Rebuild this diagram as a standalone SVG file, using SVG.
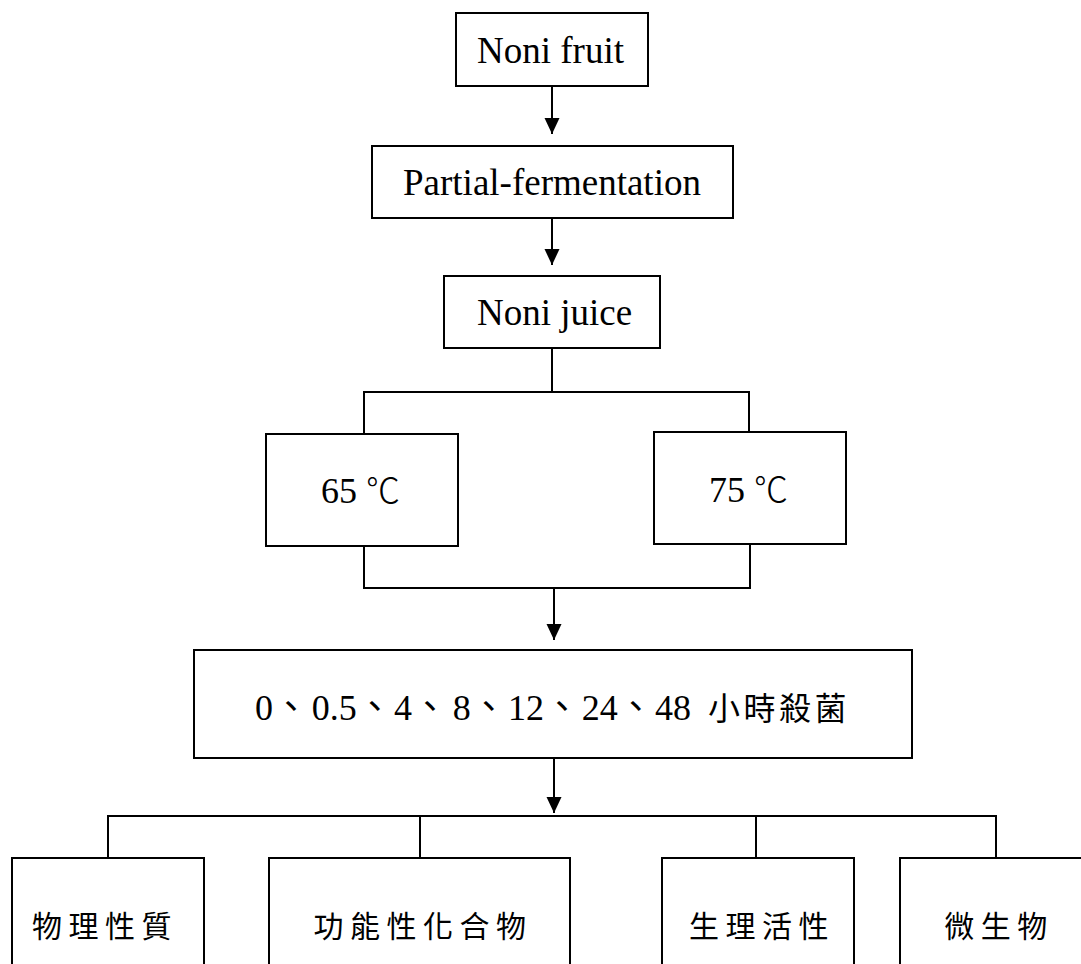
<svg xmlns="http://www.w3.org/2000/svg" width="1081" height="964" viewBox="0 0 1081 964">
  <style>
    .box { fill: #fff; stroke: #000; stroke-width: 2; }
    .wire { fill: none; stroke: #000; stroke-width: 2; }
    .lat { font-family: "Liberation Serif", "Noto Sans CJK TC", serif; font-size: 37px; fill: #000; }
    .ser { font-family: "Liberation Serif", serif; }
    .cjk { font-family: "Noto Sans CJK TC", "Liberation Serif", sans-serif; fill: #000; }
    .leaf { font-size: 30px; letter-spacing: 6.5px; }
  </style>
  <defs>
    <marker id="arrow" markerUnits="userSpaceOnUse" markerWidth="16" markerHeight="16" refX="16" refY="7.5" orient="auto">
      <path d="M0,0 L16,7.5 L0,15 z" fill="#000"/>
    </marker>
  </defs>

  <!-- connectors -->
  <g id="connectors">
    <line class="wire" x1="552" y1="86" x2="552" y2="134" marker-end="url(#arrow)"/>
    <line class="wire" x1="552" y1="218" x2="552" y2="265" marker-end="url(#arrow)"/>
    <!-- split into the two temperatures -->
    <polyline class="wire" points="552,348 552,392"/>
    <polyline class="wire" points="364,434 364,392 749,392 749,432"/>
    <!-- merge back -->
    <polyline class="wire" points="364,546 364,588 750,588 750,544"/>
    <line class="wire" x1="554" y1="588" x2="554" y2="640" marker-end="url(#arrow)"/>
    <line class="wire" x1="554" y1="758" x2="554" y2="813" marker-end="url(#arrow)"/>
    <!-- fan out to the analyses -->
    <polyline class="wire" points="108,858 108,816 996,816 996,858"/>
    <line class="wire" x1="420" y1="816" x2="420" y2="858"/>
    <line class="wire" x1="756" y1="816" x2="756" y2="858"/>
  </g>

  <g id="noni-fruit">
    <rect class="box" x="456" y="13" width="192" height="73"/>
    <text class="lat" x="477" y="63">Noni fruit</text>
  </g>

  <g id="partial-fermentation">
    <rect class="box" x="372" y="146" width="361" height="72"/>
    <text class="lat" x="403" y="195">Partial-fermentation</text>
  </g>

  <g id="noni-juice">
    <rect class="box" x="444" y="276" width="216" height="72"/>
    <text class="lat" x="477" y="325">Noni juice</text>
  </g>

  <g id="temp-65">
    <rect class="box" x="266" y="434" width="192" height="112"/>
    <text class="ser" x="321" y="503" font-size="36">65</text>
    <text class="cjk" x="366" y="503" font-size="34" font-weight="300">℃</text>
  </g>

  <g id="temp-75">
    <rect class="box" x="654" y="432" width="192" height="112"/>
    <text class="ser" x="709" y="502" font-size="36">75</text>
    <text class="cjk" x="754" y="502" font-size="34" font-weight="300">℃</text>
  </g>

  <g id="sterilization-time">
    <rect class="box" x="194" y="650" width="718" height="108"/>
    <text class="lat" y="720" style="font-size:36px"><tspan x="255">0、</tspan><tspan x="311.7">0.5、</tspan><tspan x="394">4、</tspan><tspan x="452.7">8、</tspan><tspan x="508">12、</tspan><tspan x="581.7">24、</tspan><tspan x="655">48</tspan></text>
    <text class="cjk" x="708" y="720" font-size="32" letter-spacing="3.5">小時殺菌</text>
  </g>

  <g id="physical-properties">
    <rect class="box" x="12" y="858" width="192" height="130"/>
    <text class="cjk leaf" x="105" y="937" text-anchor="middle">物理性質</text>
  </g>

  <g id="functional-compounds">
    <rect class="box" x="269" y="858" width="301" height="130"/>
    <text class="cjk leaf" x="423" y="937" text-anchor="middle">功能性化合物</text>
  </g>

  <g id="bioactivity">
    <rect class="box" x="662" y="858" width="192" height="130"/>
    <text class="cjk leaf" x="762" y="937" text-anchor="middle">生理活性</text>
  </g>

  <g id="microbes">
    <rect class="box" x="900" y="858" width="192" height="130"/>
    <text class="cjk leaf" x="999" y="937" text-anchor="middle">微生物</text>
  </g>
</svg>
